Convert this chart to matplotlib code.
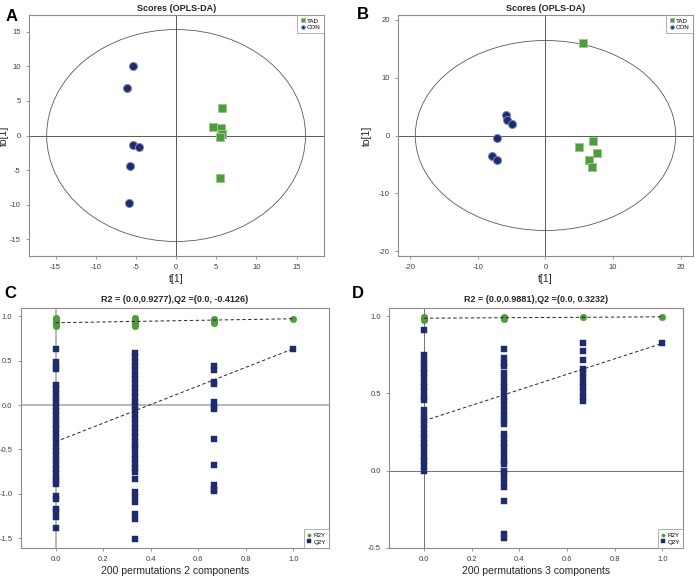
"""
OPLS-DA score plots (A, B) and permutation tests (C, D), 2x2 panel figure.
Writes out.png.
"""

import matplotlib
matplotlib.use("Agg")
import matplotlib.pyplot as plt
from matplotlib.patches import Ellipse

plt.rcParams.update({
    "font.family":        ["Liberation Sans", "DejaVu Sans"],
    "axes.unicode_minus": False,
    "axes.edgecolor":     "0.55",
    "axes.linewidth":     0.8,
    "xtick.color":        "0.55",
    "ytick.color":        "0.55",
    "xtick.labelcolor":   "0.25",
    "ytick.labelcolor":   "0.25",
    "xtick.labelsize":    5.5,
    "ytick.labelsize":    5.5,
    "xtick.major.size":   2.5,
    "ytick.major.size":   2.5,
    "xtick.major.width":  0.6,
    "ytick.major.width":  0.6,
})

GREEN = "#4e9c3c"
NAVY = "#1e2b6c"
GREEN_EDGE = "#9cc690"
NAVY_EDGE = "#7f88b4"

# ---------------------------------------------------------------------------
# Data
# ---------------------------------------------------------------------------
# Panel A scores
a_tad_t = [5.7, 4.6, 5.6, 5.7, 5.5, 5.5]
a_tad_to = [3.9, 1.3, 1.1, 0.2, -0.2, -6.1]
a_con_t = [-5.3, -6.1, -5.4, -4.6, -5.7, -5.8]
a_con_to = [10.0, 6.8, -1.3, -1.6, -4.4, -9.8]

# Panel B scores
b_tad_t = [5.6, 7.0, 4.9, 7.6, 6.5, 6.8]
b_tad_to = [16.0, -0.9, -2.0, -3.0, -4.3, -5.5]
b_con_t = [-5.8, -5.7, -5.0, -7.2, -7.9, -7.2]
b_con_to = [3.6, 2.7, 2.0, -0.4, -3.5, -4.2]

# Panel C permutations (x = correlation of permuted Y with original Y)
c_r2_x0 = [0.89, 0.91, 0.93, 0.95, 0.97, 0.98]
c_r2_x1 = [0.89, 0.91, 0.93, 0.95, 0.97, 0.98]
c_r2_x2 = [0.92, 0.94, 0.96, 0.97]
c_r2_x3 = [0.973]
c_q2_x0 = [0.635, 0.48, 0.445, 0.41, 0.23, 0.18, 0.13, 0.08, 0.03, -0.02,
           -0.07, -0.12, -0.17, -0.22, -0.27, -0.32, -0.37, -0.42, -0.47,
           -0.52, -0.57, -0.62, -0.67, -0.72, -0.77, -0.82, -0.86, -0.89,
           -1.02, -1.06, -1.17, -1.19, -1.26, -1.385]
c_q2_x1 = [0.59, 0.54, 0.49, 0.44, 0.39, 0.34, 0.29, 0.24, 0.19, 0.14, 0.09,
           0.04, -0.01, -0.06, -0.11, -0.16, -0.21, -0.26, -0.31, -0.36,
           -0.41, -0.46, -0.50, -0.56, -0.61, -0.66, -0.71, -0.75, -0.83,
           -0.98, -1.03, -1.09, -1.23, -1.28, -1.51]
c_q2_x2 = [0.44, 0.40, 0.26, 0.24, 0.03, -0.01, -0.04, -0.385, -0.675,
           -0.90, -0.94, -0.97]
c_q2_x3 = [0.635]
c_r2_int = 0.9277
c_q2_int = -0.4126

# Panel D permutations
d_r2_x0 = [0.975, 0.985, 0.995]
d_r2_x1 = [0.98, 0.99, 0.995]
d_r2_x2 = [0.993]
d_r2_x3 = [0.997]
d_q2_x0 = [0.909, 0.75, 0.72, 0.69, 0.66, 0.63, 0.60, 0.57, 0.54, 0.51, 0.48,
           0.46, 0.39, 0.36, 0.33, 0.30, 0.27, 0.24, 0.21, 0.18, 0.15, 0.12,
           0.09, 0.06, 0.03, 0.0]
d_q2_x1 = [0.79, 0.73, 0.70, 0.68, 0.63, 0.60, 0.57, 0.54, 0.51, 0.48, 0.45,
           0.42, 0.39, 0.36, 0.33, 0.30, 0.24, 0.21, 0.18, 0.15, 0.12, 0.09,
           0.06, 0.045, 0.0, -0.015, -0.045, -0.075, -0.105, -0.20, -0.41,
           -0.44]
d_q2_x2 = [0.825, 0.775, 0.72, 0.66, 0.63, 0.60, 0.57, 0.54, 0.51, 0.48, 0.45]
d_q2_x3 = [0.825]
d_r2_int = 0.9881
d_q2_int = 0.3232

perm_x = [0.0, 1 / 3, 2 / 3, 1.0]


# ---------------------------------------------------------------------------
# Helpers
# ---------------------------------------------------------------------------
def scores_panel(ax, tad_t, tad_to, con_t, con_to, ell_w, ell_h, lim_x, lim_y,
                 ticks_x, ticks_y, ylab_x):
    ax.axhline(0, color="0.35", lw=0.7, zorder=1)
    ax.axvline(0, color="0.35", lw=0.7, zorder=1)
    ax.add_patch(Ellipse((0, 0), 2 * ell_w, 2 * ell_h, fill=False,
                         edgecolor="0.35", lw=0.6, zorder=1))
    ax.plot(tad_t, tad_to, "s", color=GREEN, ms=6.2, mec=GREEN_EDGE, mew=0.7,
            ls="none", label="TAD", zorder=3)
    ax.plot(con_t, con_to, "o", color=NAVY, ms=5.8, mec=NAVY_EDGE, mew=0.7,
            ls="none", label="CON", zorder=3)
    ax.set_xlim(*lim_x)
    ax.set_ylim(*lim_y)
    ax.set_xticks(ticks_x)
    ax.set_yticks(ticks_y)
    ax.set_xlabel("t[1]", fontsize=7.5, color="0.15", labelpad=2)
    ax.set_ylabel("to[1]", fontsize=7.5, color="0.15")
    ax.yaxis.set_label_coords(ylab_x, 0.5)
    ax.set_title("Scores (OPLS-DA)", fontsize=6.5, fontweight="bold",
                 color="0.15", pad=3)
    leg = ax.legend(loc="upper right", fontsize=4.5, frameon=True,
                    fancybox=False, borderaxespad=0, markerscale=0.45,
                    handletextpad=0.3, borderpad=0.5, labelspacing=0.2,
                    handlelength=0.8)
    leg.get_frame().set_edgecolor("0.55")
    leg.get_frame().set_linewidth(0.6)


def perm_panel(ax, r2_cols, q2_cols, r2_int, q2_int, xlim, ylim, yticks,
               title, xlabel, zero_color, zero_lw):
    ax.axhline(0, color=zero_color, lw=zero_lw, zorder=1)
    ax.axvline(0, color=zero_color, lw=zero_lw, zorder=1)
    for i, (x, vals) in enumerate(zip(perm_x, q2_cols)):
        ax.plot([x] * len(vals), vals, "s", color=NAVY, ms=5.0, mec=NAVY,
                mew=0.3, ls="none", zorder=2,
                label="Q2Y" if i == 0 else None)
    for i, (x, vals) in enumerate(zip(perm_x, r2_cols)):
        ax.plot([x] * len(vals), vals, "o", color=GREEN, ms=4.8, mec=GREEN,
                mew=0.3, ls="none", zorder=2,
                label="R2Y" if i == 0 else None)
    ax.plot([0, 1], [r2_int, r2_cols[-1][0]], color="0.15", lw=0.7,
            ls=(0, (3.5, 2.5)), zorder=3)
    ax.plot([0, 1], [q2_int, q2_cols[-1][0]], color="0.15", lw=0.7,
            ls=(0, (3.5, 2.5)), zorder=3)
    ax.set_xlim(*xlim)
    ax.set_ylim(*ylim)
    ax.set_xticks([0.0, 0.2, 0.4, 0.6, 0.8, 1.0])
    ax.set_xticklabels(["0.0", "0.2", "0.4", "0.6", "0.8", "1.0"])
    ax.set_yticks(yticks)
    ax.set_yticklabels([f"{v:.1f}" for v in yticks])
    ax.set_xlabel(xlabel, fontsize=7.5, color="0.15", labelpad=2)
    ax.set_title(title, fontsize=6.5, fontweight="bold", color="0.15", pad=4)
    handles, labels = ax.get_legend_handles_labels()
    order = [labels.index("R2Y"), labels.index("Q2Y")]
    leg = ax.legend([handles[k] for k in order], [labels[k] for k in order],
                    loc="lower right", fontsize=4.5, frameon=True,
                    fancybox=False, borderaxespad=0, markerscale=0.5,
                    handletextpad=0.3, borderpad=0.5, labelspacing=0.2,
                    handlelength=0.8)
    leg.get_frame().set_edgecolor("0.55")
    leg.get_frame().set_linewidth(0.6)


# ---------------------------------------------------------------------------
# Figure
# ---------------------------------------------------------------------------
fig = plt.figure(figsize=(6.99, 5.77), dpi=100)

ax_a = fig.add_axes([0.0415, 0.5563, 0.4220, 0.4177])
ax_b = fig.add_axes([0.5694, 0.5563, 0.4220, 0.4177])
ax_c = fig.add_axes([0.0296, 0.0508, 0.4411, 0.4159])
ax_d = fig.add_axes([0.5570, 0.0508, 0.4205, 0.4159])

scores_panel(ax_a, a_tad_t, a_tad_to, a_con_t, a_con_to, 16.1, 15.3,
             (-18.3, 18.4), (-17.4, 17.4),
             [-15, -10, -5, 0, 5, 10, 15], [-15, -10, -5, 0, 5, 10, 15],
             -0.068)
scores_panel(ax_b, b_tad_t, b_tad_to, b_con_t, b_con_to, 19.25, 16.4,
             (-21.8, 21.8), (-20.8, 20.8),
             [-20, -10, 0, 10, 20], [-20, -10, 0, 10, 20], -0.09)

perm_panel(ax_c, [c_r2_x0, c_r2_x1, c_r2_x2, c_r2_x3],
           [c_q2_x0, c_q2_x1, c_q2_x2, c_q2_x3], c_r2_int, c_q2_int,
           (-0.147, 1.15), (-1.606, 1.097), [-1.5, -1.0, -0.5, 0.0, 0.5, 1.0],
           "R2 = (0.0,0.9277),Q2 =(0.0, -0.4126)",
           "200 permutations 2 components", "0.65", 1.1)
perm_panel(ax_d, [d_r2_x0, d_r2_x1, d_r2_x2, d_r2_x3],
           [d_q2_x0, d_q2_x1, d_q2_x2, d_q2_x3], d_r2_int, d_q2_int,
           (-0.146, 1.088), (-0.5, 1.056), [-0.5, 0.0, 0.5, 1.0],
           "R2 = (0.0,0.9881),Q2 =(0.0, 0.3232)",
           "200 permutations 3 components", "0.45", 0.7)

for letter, x, y in [("A", 0.008, 0.985), ("B", 0.511, 0.988),
                     ("C", 0.006, 0.505), ("D", 0.503, 0.505)]:
    fig.text(x, y, letter, fontsize=12, fontweight="bold", ha="left",
             va="top", color="black")

fig.savefig("out.png", dpi=100)
